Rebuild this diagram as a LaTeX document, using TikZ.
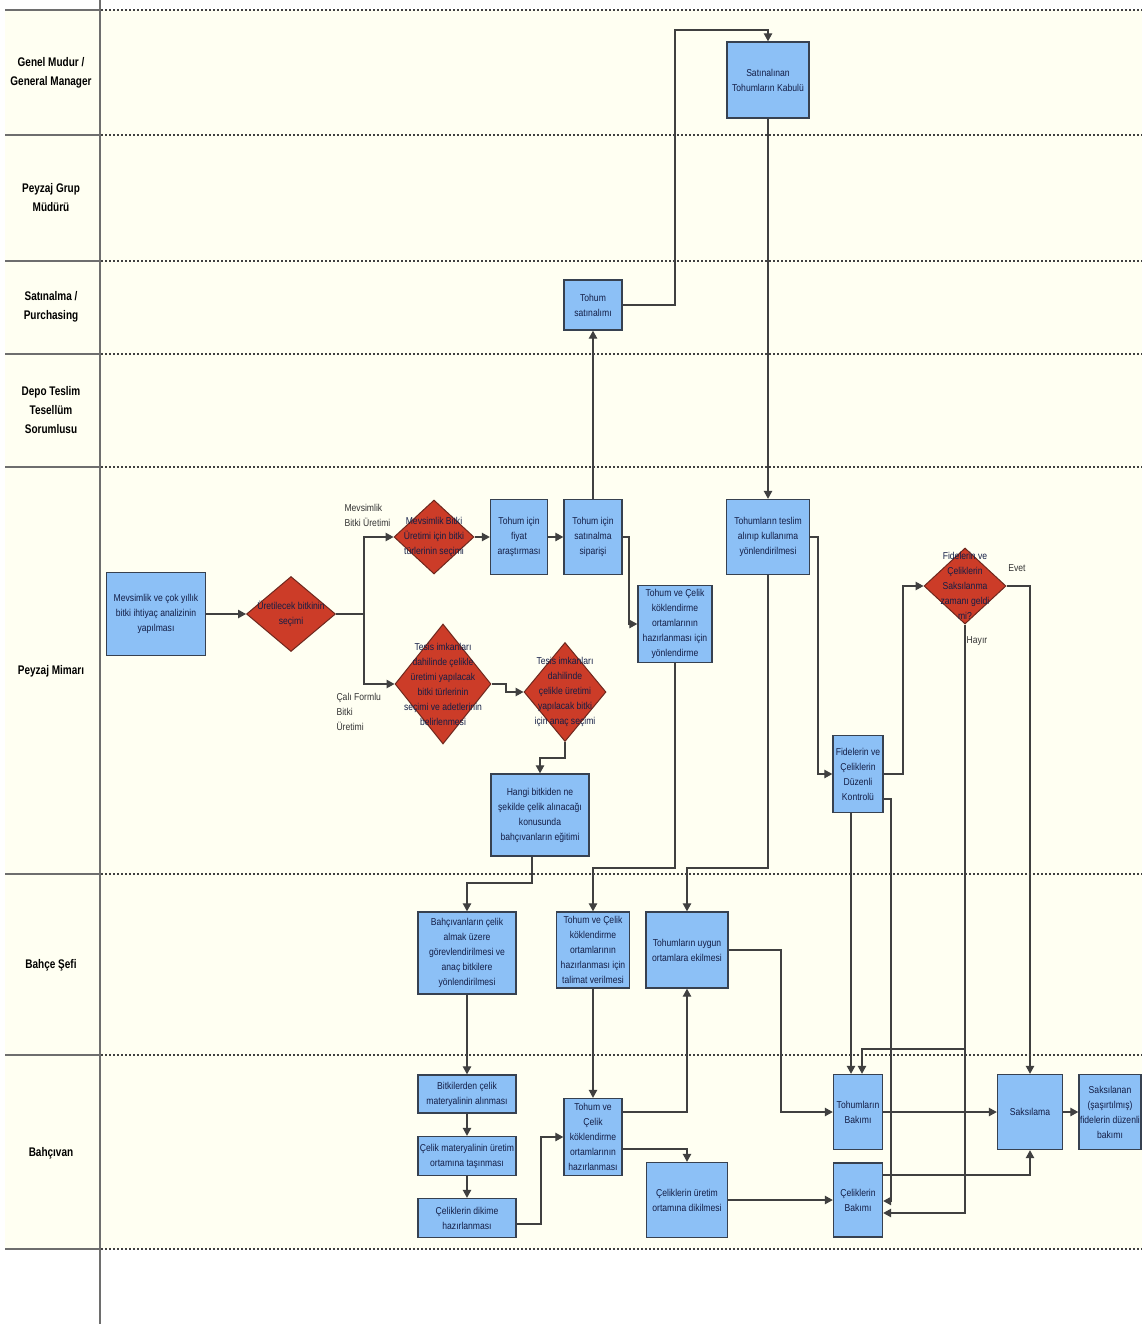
\documentclass[tikz,border=0pt]{standalone}
\usepackage{fontspec}
\usetikzlibrary{arrows.meta,shapes.geometric,calc}
\newfontfamily\narrowfam{Liberation Sans}[FakeStretch=0.86]
\newfontfamily\lanefam{Liberation Sans}[FakeStretch=0.8]
\newcommand\bxfont{\narrowfam\fontsize{10}{15}\selectfont}
\newcommand\lnfont{\lanefam\bfseries\fontsize{12.5}{19}\selectfont}
\definecolor{boxblue}{RGB}{140,192,246}
\definecolor{boxline}{RGB}{55,65,80}
\definecolor{diared}{RGB}{204,60,40}
\definecolor{dialine}{RGB}{110,40,30}
\definecolor{cream}{RGB}{255,255,242}
\definecolor{lineg}{RGB}{64,64,64}
\definecolor{boxtext}{RGB}{20,30,70}
\definecolor{headline}{RGB}{110,110,110}
\begin{document}
\begin{tikzpicture}[x=1pt,y=-1pt,
  box/.style={draw=boxline, fill=boxblue, line width=1.4pt, inner sep=1pt, align=center, font=\bxfont, text=boxtext},
  dia/.style={diamond, draw=dialine, fill=diared, line width=1pt, inner sep=0pt},
  dtext/.style={font=\bxfont, align=center, text=boxtext},
  arr/.style={draw=lineg, line width=1.2pt, -{Triangle[length=8pt,width=8.5pt]}},
  ln/.style={draw=lineg, line width=1.2pt},
  lanehead/.style={draw=headline, line width=2pt},
  lanedot/.style={draw=lineg, line width=1.5pt, dash pattern=on 1.5pt off 2.5pt},
  lanelbl/.style={font=\lnfont, align=center, text=black},
  elbl/.style={font=\bxfont, text=black!80}
]
\useasboundingbox (0,0) rectangle (1142,1324);
\fill[white] (0,0) rectangle (1142,1324);
\fill[cream] (5,10) rectangle (1142,1249);
\foreach \yy in {10,135,261,354,467,874,1055,1249}{
  \draw[lanehead] (5,\yy) -- (100,\yy);
  \draw[lanedot] (101,\yy) -- (1142,\yy);
}
\draw[draw=headline, line width=1.8pt] (100,0) -- (100,1324);

% lane labels
\node[lanelbl] (l1) at (51,73) {Genel Mudur /\\General Manager};
\node[lanelbl] (l2) at (51,198) {Peyzaj Grup\\Müdürü};
\node[lanelbl] (l3) at (51,307) {Satınalma /\\Purchasing};
\node[lanelbl] (l4) at (51,410) {Depo Teslim\\Tesellüm\\Sorumlusu};
\node[lanelbl] (l5) at (51,671) {Peyzaj Mimarı};
\node[lanelbl] (l6) at (51,965) {Bahçe Şefi};
\node[lanelbl] (l7) at (51,1153) {Bahçıvan};

% boxes
\node[box, minimum width=82pt, minimum height=76pt] (b1) at (768,80) {Satınalınan\\Tohumların Kabulü};
\node[box, minimum width=58pt, minimum height=50pt] (b2) at (593,305) {Tohum\\satınalımı};
\node[box, minimum width=99pt, minimum height=83pt] (b3) at (156,614) {Mevsimlik ve çok yıllık\\bitki ihtiyaç analizinin\\yapılması};
\node[box, minimum width=57pt, minimum height=75pt] (b6) at (519,537) {Tohum için\\fiyat\\araştırması};
\node[box, minimum width=58pt, minimum height=75pt] (b7) at (593,537) {Tohum için\\satınalma\\siparişi};
\node[box, minimum width=74pt, minimum height=77pt] (b8) at (675,624) {Tohum ve Çelik\\köklendirme\\ortamlarının\\hazırlanması için\\yönlendirme};
\node[box, minimum width=83pt, minimum height=75pt] (b9) at (768,537) {Tohumların teslim\\alınıp kullanıma\\yönlendirilmesi};
\node[box, minimum width=98pt, minimum height=82pt] (b12) at (540,815) {Hangi bitkiden ne\\şekilde çelik alınacağı\\konusunda\\bahçıvanların eğitimi};
\node[box, minimum width=50pt, minimum height=77pt] (b13) at (858,774) {Fidelerin ve\\Çeliklerin\\Düzenli\\Kontrolü};
\node[box, minimum width=98pt, minimum height=82pt] (b15) at (467,953) {Bahçıvanların çelik\\almak üzere\\görevlendirilmesi ve\\anaç bitkilere\\yönlendirilmesi};
\node[box, minimum width=73pt, minimum height=76pt] (b16) at (593,950) {Tohum ve Çelik\\köklendirme\\ortamlarının\\hazırlanması için\\talimat verilmesi};
\node[box, minimum width=82pt, minimum height=76pt] (b17) at (687,950) {Tohumların uygun\\ortamlara ekilmesi};
\node[box, minimum width=98pt, minimum height=38pt] (b18) at (467,1094) {Bitkilerden çelik\\materyalinin alınması};
\node[box, minimum width=98pt, minimum height=39pt] (b19) at (467,1156) {Çelik materyalinin üretim\\ortamına taşınması};
\node[box, minimum width=98pt, minimum height=39pt] (b20) at (467,1218) {Çeliklerin dikime\\hazırlanması};
\node[box, minimum width=58pt, minimum height=77pt] (b21) at (593,1137) {Tohum ve\\Çelik\\köklendirme\\ortamlarının\\hazırlanması};
\node[box, minimum width=81pt, minimum height=75pt] (b22) at (687,1200) {Çeliklerin üretim\\ortamına dikilmesi};
\node[box, minimum width=49pt, minimum height=75pt] (b23) at (858,1112) {Tohumların\\Bakımı};
\node[box, minimum width=49pt, minimum height=74pt] (b24) at (858,1200) {Çeliklerin\\Bakımı};
\node[box, minimum width=65pt, minimum height=75pt] (b25) at (1030,1112) {Saksılama};
\node[box, minimum width=62pt, minimum height=75pt] (b26) at (1110,1112) {Saksılanan\\(şaşırtılmış)\\fidelerin düzenli\\bakımı};

% diamonds
\node[dia, minimum width=89pt, minimum height=75pt, label={[dtext]center:{Üretilecek bitkinin\\seçimi}}] (d1) at (291,614) {};
\node[dia, minimum width=80pt, minimum height=74pt, label={[dtext]center:{Mevsimlik Bitki\\Üretimi için bitki\\türlerinin seçimi}}] (d2) at (434,537) {};
\node[dia, minimum width=96pt, minimum height=120pt, label={[dtext]center:{Tesis imkanları\\dahilinde çelikle\\üretimi yapılacak\\bitki türlerinin\\seçimi ve adetlerinin\\belirlenmesi}}] (d3) at (443,684) {};
\node[dia, minimum width=82pt, minimum height=99pt, label={[dtext]center:{Tesis imkanları\\dahilinde\\çelikle üretimi\\yapılacak bitki\\için anaç seçimi}}] (d5) at (565,692) {};
\node[dia, minimum width=82pt, minimum height=76pt, label={[dtext]center:{Fidelerin ve\\Çeliklerin\\Saksılanma\\zamanı geldi\\mi?}}] (d4) at (965,586) {};

% edge labels
\node[elbl, anchor=west, align=left] (e1) at (341,515) {Mevsimlik\\Bitki Üretimi};
\node[elbl, anchor=west, align=left] (e2) at (333,712) {Çalı Formlu\\Bitki\\Üretimi};
\node[elbl] (e3) at (1017,568) {Evet};
\node[elbl] (e4) at (977,641) {Hayır};

% connectors
\coordinate (split) at (364,614);
\draw[arr] (b3.east) -- (d1.west);
\draw[ln] (d1.east) -- (split);
\draw[arr] (split) |- (d2.west);
\draw[arr] (split) |- (d3.west);
\draw[arr] (d2.east) -- (b6.west);
\draw[arr] (b6.east) -- (b7.west);
\draw[arr] (b7.north) -- (b2.south);
\draw[arr] (b2.east) -- (675,305) -- (675,30) -| (b1.north);
\draw[arr] (b1.south) -- (b9.north);
\draw[arr] (b7.east) -- (629,537) |- (b8.west);
\draw[arr] (b9.east) -- (818,537) |- (b13.west);
\draw[arr] (b13.east) -- (903,774) |- (d4.west);
\draw[arr] (d4.east) -| (b25.north);
\draw[arr] (d4.south) |- ($(b24.east)+(0,13)$);
\draw[arr] (965,1049) -| ($(b23.north)+(4,0)$);
\draw[arr] ($(b13.south)+(-7,0)$) -- ($(b23.north)+(-7,0)$);
\draw[arr] ($(b13.east)+(0,25)$) -- (891,799) |- ($(b24.east)+(0,1)$);
\draw[arr] (b8.south) -- (675,868) -| (b16.north);
\draw[arr] (b9.south) -- (768,868) -| (b17.north);
\draw[arr] ($(b12.south)+(-8,0)$) -- (532,883) -| (b15.north);
\draw[arr] (d5.south) -- (565,758) -| (b12.north);
\draw[arr] (d3.east) -- (506,684) |- (d5.west);
\draw[arr] (b15.south) -- (b18.north);
\draw[arr] (b18.south) -- (b19.north);
\draw[arr] (b19.south) -- (b20.north);
\draw[arr] ($(b20.east)+(0,6)$) -- (541,1224) |- (b21.west);
\draw[arr] (b16.south) -- (b21.north);
\draw[arr] ($(b21.east)+(0,-25)$) -| (b17.south);
\draw[arr] ($(b21.east)+(0,12)$) -| (b22.north);
\draw[arr] (b17.east) -- (781,950) |- (b23.west);
\draw[arr] (b22.east) -- (b24.west);
\draw[arr] (b23.east) -- (b25.west);
\draw[arr] ($(b24.east)+(0,-25)$) -| (b25.south);
\draw[arr] (b25.east) -- (b26.west);
\end{tikzpicture}
\end{document}
